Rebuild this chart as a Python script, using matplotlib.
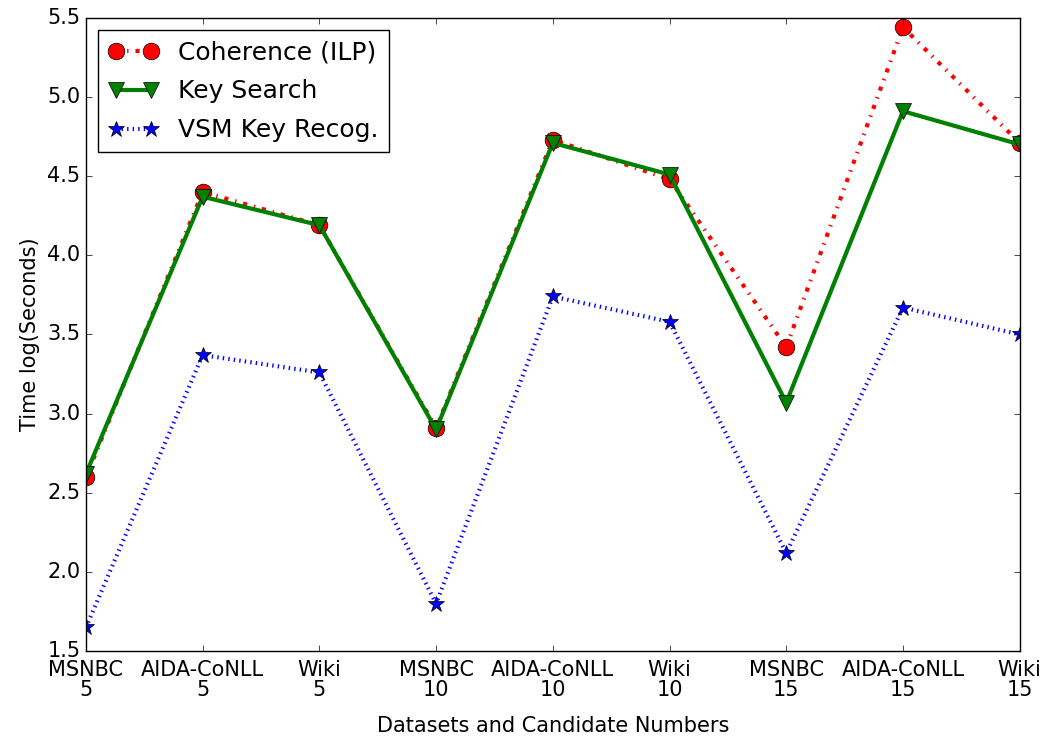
import numpy as np
import matplotlib
matplotlib.use("Agg")
import matplotlib.pyplot as plt

plt.style.use("classic")

labels = ["MSNBC\n5", "AIDA-CoNLL\n5", "Wiki\n5",
          "MSNBC\n10", "AIDA-CoNLL\n10", "Wiki\n10",
          "MSNBC\n15", "AIDA-CoNLL\n15", "Wiki\n15"]
coherence = [2.60, 4.40, 4.19, 2.91, 4.73, 4.48, 3.42, 5.44, 4.71]
key_search = [2.62, 4.37, 4.19, 2.90, 4.71, 4.51, 3.07, 4.91, 4.70]
vsm = [1.65, 3.37, 3.26, 1.80, 3.74, 3.58, 2.12, 3.67, 3.50]

x = np.arange(len(labels))

fig, ax = plt.subplots(figsize=(10.48, 7.4), dpi=100)
fig.patch.set_facecolor("white")
ax.plot(x, coherence, "ro-.", lw=3, ms=12, label="Coherence (ILP)")
ax.plot(x, key_search, "gv-", lw=3, ms=12, label="Key Search")
ax.plot(x, vsm, "b*:", lw=3, ms=12, label="VSM Key Recog.")

ax.set_xlim(0, 8)
ax.set_ylim(1.5, 5.5)
ax.set_xticks(x)
ax.set_xticklabels(labels, fontsize=15, linespacing=1.05)
ax.tick_params(axis="y", labelsize=15)
ax.tick_params(axis="x", pad=6)
ax.set_xlabel("Datasets and Candidate Numbers", fontsize=15, labelpad=11)
ax.set_ylabel("Time log(Seconds)", fontsize=15)
ax.legend(loc="upper left", fontsize=18, numpoints=2, labelspacing=0.6)

fig.subplots_adjust(left=0.082, right=0.973, top=0.976, bottom=0.12)
fig.savefig("out.png", dpi=100)
